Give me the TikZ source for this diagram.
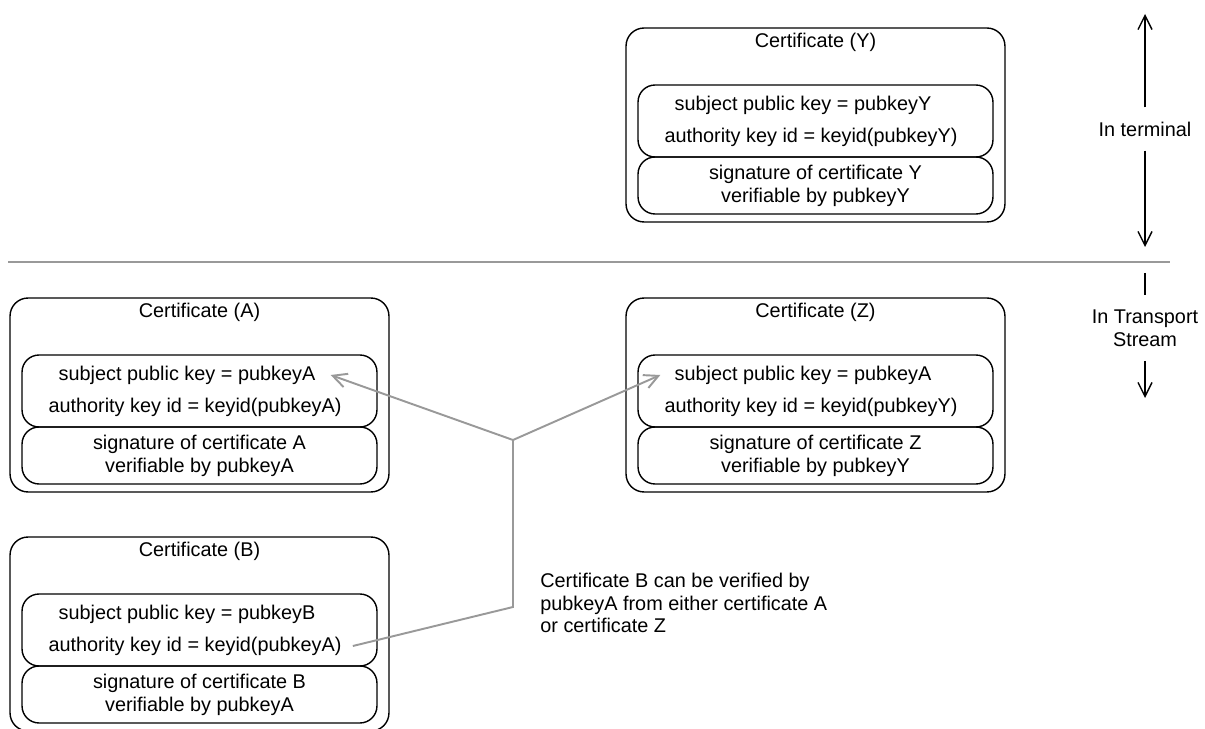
\documentclass[tikz,border=0pt]{standalone}
\usepackage{fontspec}
\setmainfont{Liberation Sans}
\usepackage{tikz}
\usetikzlibrary{arrows.meta,positioning}

\tikzset{
  cert/.style={draw,thick,rounded corners=3.6mm,minimum width=7.58cm,minimum height=3.88cm},
  part/.style={draw,thick,rounded corners=3.4mm,minimum width=7.1cm,align=center,
    font=\fontsize{11.3}{13}\selectfont},
  txt/.style={inner sep=0pt,align=center,font=\fontsize{11.3}{13}\selectfont},
  link/.style={draw=black!40,line width=1.1pt},
  tip/.style={-{Straight Barb[length=2.8mm,width=2.8mm]}}
}

\begin{document}
\begin{tikzpicture}[x=0.02cm,y=-0.02cm]
            \clip (0,0) rectangle (1205,729);
            % 证书 Y
            \begin{scope}[shift={(626,28)}]
                \node[cert] (Ybox) at (189.5,97) {};
                \node[txt] (Ytitle) at (189.5,14) {Certificate (Y)};
                \node[part,minimum height=1.44cm] (Ykey) at (189.5,93) {};
                \node[txt] (Ysub) at (177,77) {subject public key = pubkeyY};
                \node[txt] (Yauth) at (185,109) {authority key id = keyid(pubkeyY)};
                \node[part,minimum height=1.14cm] (Ysig) at (189.5,157.5) {signature of certificate Y\\verifiable by pubkeyY};
            \end{scope}

            % 证书 A
            \begin{scope}[shift={(10,298)}]
                \node[cert] (Abox) at (189.5,97) {};
                \node[txt] (Atitle) at (189.5,14) {Certificate (A)};
                \node[part,minimum height=1.44cm] (Akey) at (189.5,93) {};
                \node[txt] (Asub) at (177,77) {subject public key = pubkeyA};
                \node[txt] (Aauth) at (185,109) {authority key id = keyid(pubkeyA)};
                \node[part,minimum height=1.14cm] (Asig) at (189.5,157.5) {signature of certificate A\\verifiable by pubkeyA};
            \end{scope}

            % 证书 Z
            \begin{scope}[shift={(626,298)}]
                \node[cert] (Zbox) at (189.5,97) {};
                \node[txt] (Ztitle) at (189.5,14) {Certificate (Z)};
                \node[part,minimum height=1.44cm] (Zkey) at (189.5,93) {};
                \node[txt] (Zsub) at (177,77) {subject public key = pubkeyA};
                \node[txt] (Zauth) at (185,109) {authority key id = keyid(pubkeyY)};
                \node[part,minimum height=1.14cm] (Zsig) at (189.5,157.5) {signature of certificate Z\\verifiable by pubkeyY};
            \end{scope}

            % 证书 B
            \begin{scope}[shift={(10,537)}]
                \node[cert] (Bbox) at (189.5,97) {};
                \node[txt] (Btitle) at (189.5,14) {Certificate (B)};
                \node[part,minimum height=1.44cm] (Bkey) at (189.5,93) {};
                \node[txt] (Bsub) at (177,77) {subject public key = pubkeyB};
                \node[txt] (Bauth) at (185,109) {authority key id = keyid(pubkeyA)};
                \node[part,minimum height=1.14cm] (Bsig) at (189.5,157.5) {signature of certificate B\\verifiable by pubkeyA};
            \end{scope}

            % 分隔线
            \coordinate (sepL) at (8,262);
            \coordinate (sepR) at (1170,262);
            \draw[link] (sepL) -- (sepR);

            % 右侧说明
            \node[txt,inner ysep=8pt] (term) at (1145,129) {In terminal};
            \coordinate (termtop) at (1145,14);
            \coordinate (termbot) at (1145,247);
            \draw[thick,tip] (term) -- (termtop);
            \draw[thick,tip] (term) -- (termbot);
            \node[txt,inner ysep=8pt] (trans) at (1145,328) {In Transport\\Stream};
            \coordinate (transtop) at (1145,273);
            \coordinate (transbot) at (1145,398);
            \draw[thick] (transtop) -- (trans);
            \draw[thick,tip] (trans) -- (transbot);

            % 连线
            \coordinate (jtop) at (513,440);
            \coordinate (jbot) at (513,607);
            \draw[link] ([xshift=0.22cm]Bauth.east) -- (jbot) -- (jtop);
            \draw[link,tip] (jtop) -- ([xshift=0.3cm]Asub.east);
            \draw[link,tip] (jtop) -- ([xshift=-0.28cm]Zsub.west);

            \node[txt,align=left,anchor=west] (note) at (540,603) {Certificate B can be verified by\\pubkeyA from either certificate A\\or certificate Z};
          \end{tikzpicture}
\end{document}
